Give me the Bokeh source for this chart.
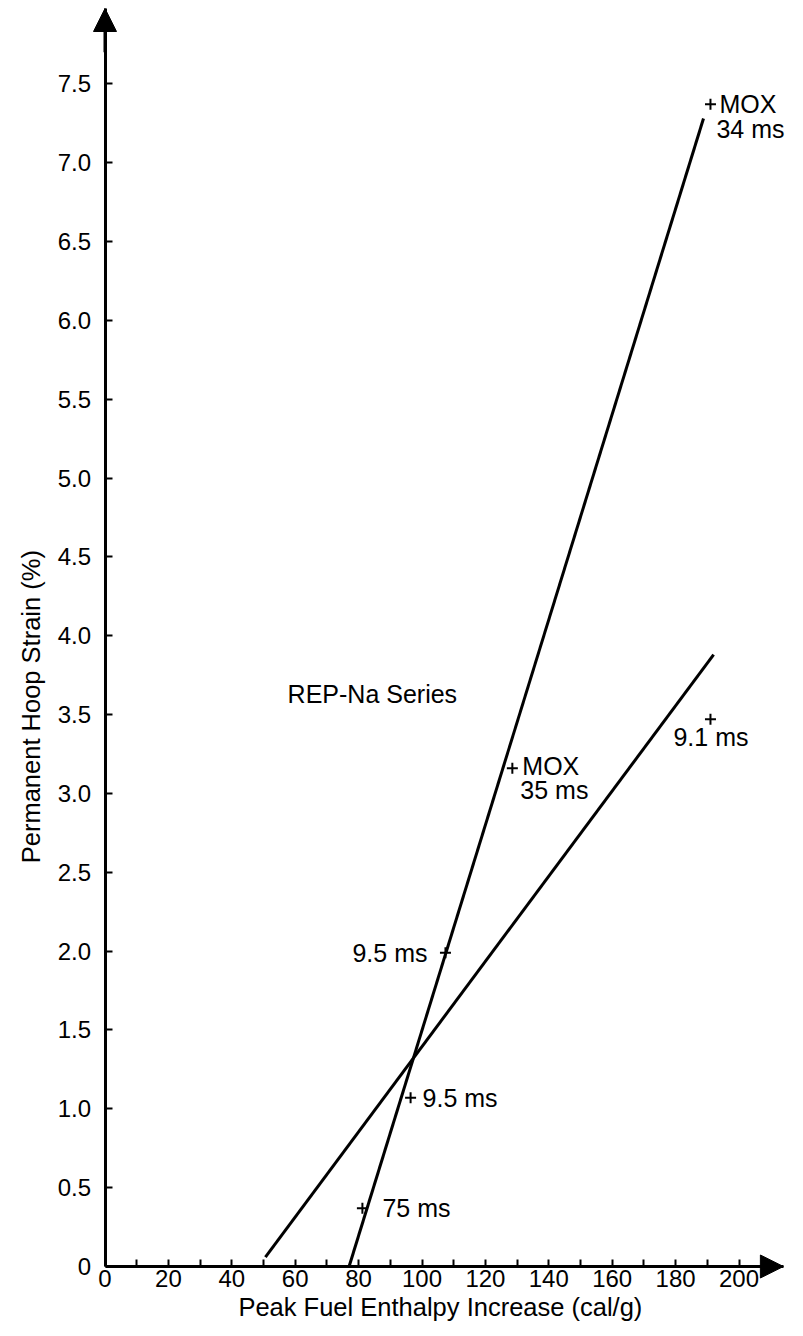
import math
from bokeh.plotting import figure
from bokeh.models import Range1d, FixedTicker, Arrow, NormalHead, ColumnDataSource, Label
from bokeh.core.properties import value
from bokeh.embed import file_html
from bokeh.resources import INLINE

# ---- data ----
x_ticks = [0, 20, 40, 60, 80, 100, 120, 140, 160, 180, 200]
x_minor_ticks = [10, 30, 50, 70, 90, 110, 130, 150, 170, 190]
y_ticks = [0, 0.5, 1.0, 1.5, 2.0, 2.5, 3.0, 3.5, 4.0, 4.5, 5.0, 5.5, 6.0, 6.5, 7.0, 7.5]
y_tick_labels = ["0", "0.5", "1.0", "1.5", "2.0", "2.5", "3.0", "3.5",
                 "4.0", "4.5", "5.0", "5.5", "6.0", "6.5", "7.0", "7.5"]

# fitted lines (steep line through MOX points, shallow line through UO2 points)
steep_line_x = [77.0, 188.8]
steep_line_y = [0.0, 7.28]
shallow_line_x = [50.6, 192.0]
shallow_line_y = [0.06, 3.88]

# measured points
point_x = [191.0, 128.5, 191.0, 107.4, 96.4, 81.2]
point_y = [7.37, 3.16, 3.47, 1.99, 1.07, 0.37]

# labels attached to points
label_text = ["MOX", "34 ms", "MOX", "35 ms", "9.1 ms", "9.5 ms", "9.5 ms", "75 ms"]
label_point = [0, 0, 1, 1, 2, 3, 4, 5]

series_title = "REP-Na Series"
x_title = "Peak Fuel Enthalpy Increase (cal/g)"
y_title = "Permanent Hoop Strain (%)"

# ---- styling / layout ----
label_dx = [9, 6, 10, 8, -37, -18, 12, 20]
label_dy = [0, 25, -2, 22, 18, 0, 0, 0]
label_align = ["left", "left", "left", "left", "left", "right", "left", "left"]

FONT = "Liberation Sans"
W, H = 795, 1336
PX_X, PX_Y = 3.17, 157.7          # pixels per data unit
ORIGIN_X, ORIGIN_Y = 104.5, 1266  # canvas position of (0, 0)
X0, X1 = -ORIGIN_X / PX_X, (W - ORIGIN_X) / PX_X
Y0, Y1 = -(H - ORIGIN_Y) / PX_Y, ORIGIN_Y / PX_Y
X_TIP = 214.0
Y_TIP = (ORIGIN_Y - 8) / PX_Y

p = figure(width=W, height=H,
           x_range=Range1d(X0, X1), y_range=Range1d(Y0, Y1),
           output_backend="svg", toolbar_location=None,
           min_border_left=0, min_border_right=0,
           min_border_top=0, min_border_bottom=0)
p.outline_line_color = None
p.grid.visible = False
p.background_fill_color = "white"
p.border_fill_color = "white"

for ax in (p.xaxis[0], p.yaxis[0]):
    ax.fixed_location = 0
    ax.axis_line_width = 3
    ax.axis_line_color = "black"
    ax.major_tick_in = 7
    ax.major_tick_out = 0
    ax.minor_tick_in = 7
    ax.minor_tick_out = 0
    ax.major_tick_line_width = 2
    ax.minor_tick_line_width = 2
    ax.major_tick_line_color = "black"
    ax.minor_tick_line_color = "black"
    ax.major_label_text_font = FONT
    ax.major_label_text_font_size = "24px"
    ax.major_label_text_color = "black"

p.xaxis.bounds = (0, X_TIP)
p.yaxis.bounds = (0, Y_TIP)
p.xaxis.ticker = FixedTicker(ticks=x_ticks, minor_ticks=x_minor_ticks)
p.yaxis.ticker = FixedTicker(ticks=y_ticks, minor_ticks=[])
p.yaxis.major_label_overrides = {t: s for t, s in zip(y_ticks, y_tick_labels)}
p.xaxis.major_label_standoff = 3
p.yaxis.major_label_standoff = 14

# arrow heads on the axes
p.add_layout(Arrow(end=NormalHead(size=23, fill_color="black", line_color="black"),
                   x_start=0, y_start=7.7, x_end=0, y_end=Y_TIP,
                   line_width=3, line_color="black"))
p.add_layout(Arrow(end=NormalHead(size=23, fill_color="black", line_color="black"),
                   x_start=205, y_start=0, x_end=X_TIP, y_end=0,
                   line_width=3, line_color="black"))

p.line(steep_line_x, steep_line_y, line_width=3, line_color="black")
p.line(shallow_line_x, shallow_line_y, line_width=3, line_color="black")

p.scatter(point_x, point_y, marker="cross", size=11, line_width=2, line_color="black")

lab_src = ColumnDataSource(dict(
    x=[point_x[i] for i in label_point],
    y=[point_y[i] for i in label_point],
    text=label_text,
    dx=label_dx, dy=label_dy, align=label_align,
))
p.text(x="x", y="y", text="text", x_offset="dx", y_offset="dy", text_align="align",
       source=lab_src, text_baseline="middle", text_font=value(FONT),
       text_font_size="25px", text_color="black")

p.add_layout(Label(x=57.6, y=3.63, text=series_title, text_font=FONT,
                   text_font_size="25px", text_color="black",
                   text_baseline="alphabetic", text_align="left"))

# axis titles
p.add_layout(Label(x=105.8, y=-0.254, text=x_title, text_font=FONT,
                   text_font_size="25.5px", text_color="black",
                   text_baseline="middle", text_align="center"))
p.add_layout(Label(x=-23.2, y=3.55, text=y_title, text_font=FONT, angle=math.pi / 2,
                   text_font_size="25.5px", text_color="black",
                   text_baseline="middle", text_align="center"))

open("out.html", "w").write(file_html(p, INLINE))
